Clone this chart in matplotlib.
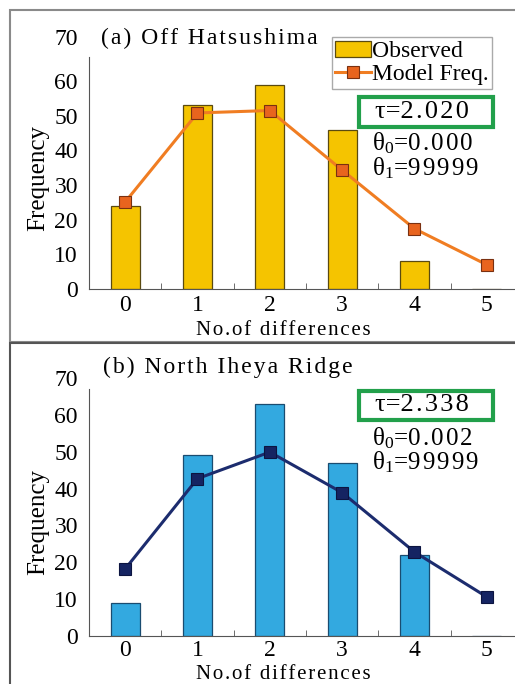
import matplotlib
matplotlib.use("Agg")
import matplotlib.pyplot as plt
from matplotlib.patches import Rectangle

# data
diffs = [0, 1, 2, 3, 4, 5]
obs_a = [24, 53, 59, 46, 8, 0]
model_a = [25.1, 50.8, 51.5, 34.3, 17.4, 7.0]
obs_b = [9, 49, 63, 47, 22, 0]
model_b = [18.2, 42.7, 49.9, 38.9, 22.8, 10.6]
ytick_labels = ['0', '10', '20', '30', '40', '50', '60', '70']

plt.rcParams['font.family'] = ['Liberation Serif', 'DejaVu Serif']
plt.rcParams['mathtext.fontset'] = 'custom'
plt.rcParams['mathtext.rm'] = 'Liberation Serif'
plt.rcParams['mathtext.it'] = 'Liberation Serif'

HAIR = '\u200a'


def spaced(s):
    # the original figure uses loose letter spacing
    return HAIR.join(s)


fig = plt.figure(figsize=(5.15, 6.84), dpi=100)

# panel frames (figure fraction)
fig.patches.append(Rectangle((10 / 515, (684 - 342) / 684), 1.0, 332 / 684,
                             transform=fig.transFigure, fill=False,
                             edgecolor='#8a8a8a', linewidth=1.5))
fig.patches.append(Rectangle((10 / 515, -0.01), 1.0, (684 - 343) / 684 + 0.01,
                             transform=fig.transFigure, fill=False,
                             edgecolor='#555555', linewidth=1.5))


def panel(rect, ytop, top_tick, obs, model, title, bar_c, bar_e, line_c,
          mark_c, mark_e, tau, th0, th1, show_legend, pos):
    ax = fig.add_axes(rect)
    bars = ax.bar(diffs, obs, width=0.4, color=bar_c, edgecolor=bar_e,
                  linewidth=0.9, zorder=2)
    line, = ax.plot(diffs, model, color=line_c, linewidth=2.2, marker='s',
                    markersize=9, markerfacecolor=mark_c,
                    markeredgecolor=mark_e, markeredgewidth=0.8, zorder=3)
    ax.set_xlim(-0.5, 5.39)
    ax.set_ylim(0, ytop)
    ax.set_yticks([0, 10, 20, 30, 40, 50, 60, top_tick], ytick_labels)
    ax.set_xticks(diffs)
    ax.set_xticks([0.5, 1.5, 2.5, 3.5, 4.5], minor=True)
    ax.tick_params(axis='both', which='major', length=0, labelsize=17)
    ax.tick_params(axis='y', pad=8)
    ax.tick_params(axis='x', pad=pos['xpad'])
    ax.tick_params(axis='x', which='minor', direction='in', length=4,
                   color='#555555')
    for s in ['top', 'right']:
        ax.spines[s].set_visible(False)
    ax.spines['left'].set_bounds(0, 67)
    ax.spines['left'].set_color('#555555')
    ax.spines['bottom'].set_color('#555555')
    ax.set_ylabel('Frequency', fontsize=18)
    ax.yaxis.set_label_coords(-0.093, pos['ylab'])
    ax.set_xlabel(spaced('No.of differences'), fontsize=15)
    ax.xaxis.set_label_coords(0.455, pos['xlab'])
    ax.text(pos['tx'], pos['title'], spaced(title), transform=ax.transAxes,
            fontsize=17, va='center', ha='left')
    if show_legend:
        ax.legend([bars, line], ['Observed', 'Model Freq.'],
                  loc='upper right', bbox_to_anchor=(0.946, pos['leg']),
                  fontsize=17, frameon=True, fancybox=False,
                  edgecolor='#aaaaaa', handlelength=1.5, handletextpad=0.05,
                  borderpad=0.15, labelspacing=0.05, borderaxespad=0.0,
                  framealpha=1)
    b0, b1 = pos['box']
    ax.add_patch(Rectangle((0.634, b0), 0.314, b1 - b0,
                           transform=ax.transAxes, fill=False,
                           edgecolor='#22a04b', linewidth=3, zorder=5,
                           clip_on=False))
    ax.text(0.672, (b0 + b1) / 2, 'τ=' + spaced(tau), transform=ax.transAxes,
            fontsize=19, va='center', ha='left')
    ax.text(0.665, pos['th0'], 'θ$_0$=' + spaced(th0), transform=ax.transAxes,
            fontsize=18, va='center', ha='left')
    ax.text(0.665, pos['th1'], 'θ$_1$=' + spaced(th1), transform=ax.transAxes,
            fontsize=18, va='center', ha='left')
    return ax


panel([89 / 515, (684 - 289) / 684, 426 / 515, 253 / 684], 73, 72.6,
      obs_a, model_a, '(a) Off Hatsushima', '#f5c400', '#5a4a10',
      '#f07d22', '#e8641e', '#7a3010', '2.020', '0.000', '99999', True,
      dict(ylab=0.44, xlab=-0.127, xpad=4, tx=0.027, title=0.99, leg=0.995,
           box=(0.640, 0.759), th0=0.577, th1=0.478))
panel([89 / 515, (684 - 636) / 684, 426 / 515, 258 / 684], 70, 70,
      obs_b, model_b, '(b) North Iheya Ridge', '#33a9e0', '#1a4c70',
      '#1c2c6e', '#152462', '#0c1440', '2.338', '0.002', '99999', False,
      dict(ylab=0.44, xlab=-0.114, xpad=3, tx=0.033, title=1.04, leg=1.0,
           box=(0.837, 0.951), th0=0.767, th1=0.674))

fig.savefig('out.png', dpi=100)
